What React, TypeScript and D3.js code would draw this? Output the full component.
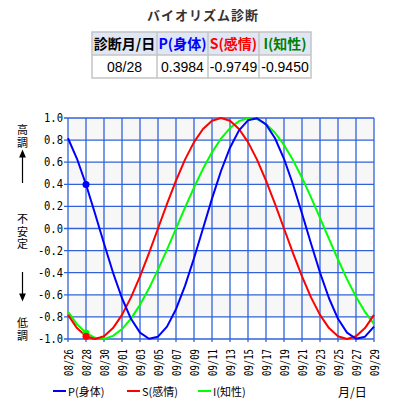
import * as d3 from "d3";
import React from "react";

// one value per day, 08/26 .. 09/29
const physical = [
  0.8168, 0.6309, 0.3984, 0.1361, -0.1362, -0.3989, -0.6313, -0.8171, -0.9424, -0.9977,
  -0.979, -0.8878, -0.7306, -0.5197, -0.2694, 0.0003, 0.2702, 0.5204, 0.731, 0.888,
  0.9791, 0.9976, 0.9422, 0.8168, 0.6309, 0.3984, 0.1361, -0.1362, -0.3989, -0.6313,
  -0.8171, -0.9424, -0.9977, -0.979, -0.8878,
];
const sensitivity = [
  -0.7818, -0.901, -0.9749, -1, -0.9749, -0.901, -0.7818, -0.6235, -0.4339, -0.2225,
  0, 0.2225, 0.4339, 0.6235, 0.7818, 0.901, 0.9749, 1, 0.9749, 0.901,
  0.7818, 0.6235, 0.4339, 0.2225, 0, -0.2225, -0.4339, -0.6235, -0.7818, -0.901,
  -0.9749, -1, -0.9749, -0.901, -0.7818,
];
const intellectual = [
  -0.755, -0.8655, -0.945, -0.9897, -0.9989, -0.9721, -0.9101, -0.8152, -0.6909, -0.5416,
  -0.3727, -0.1904, -0.0011, 0.1883, 0.3707, 0.5398, 0.6893, 0.8139, 0.9092, 0.9716,
  0.9988, 0.99, 0.9454, 0.8666, 0.7565, 0.619, 0.4597, 0.2824, 0.0962, -0.094,
  -0.2806, -0.458, -0.6175, -0.7551, -0.8654,
];
const dateTicks = [
  "08/26", "08/28", "08/30", "09/01", "09/03", "09/05", "09/07", "09/09", "09/11",
  "09/13", "09/15", "09/17", "09/19", "09/21", "09/23", "09/25", "09/27", "09/29",
];
const yTicks = [1.0, 0.8, 0.6, 0.4, 0.2, 0, -0.2, -0.4, -0.6, -0.8, -1.0];
const todayIndex = 2;
const headers = ["診断月/日", "P(身体)", "S(感情)", "I(知性)"];
const headerColors = ["#000", "#0000ff", "#ff0000", "#008000"];
const todayRow = ["08/28", "0.3984", "-0.9749", "-0.9450"];
const sideLabels = ["高調", "不安定", "低調"];
const series = [
  { name: "I(知性)", color: "#00ff00", values: intellectual },
  { name: "S(感情)", color: "#ff0000", values: sensitivity },
  { name: "P(身体)", color: "#0000ff", values: physical },
];

const App = () => {
  const width = 395;
  const height = 413;
  const plot = { left: 68, right: 374, top: 118, bottom: 339 };

  const x = d3.scaleLinear().domain([0, physical.length - 1]).range([plot.left, plot.right]);
  const y = d3.scaleLinear().domain([-1, 1]).range([plot.bottom, plot.top]);
  const line = d3
    .line<number>()
    .x((_, i) => x(i))
    .y((d) => y(d));

  const grid = "#3163d8";
  const mono = "'DejaVu Sans Mono', monospace";
  const cjk = "'Noto Sans CJK JP', sans-serif";

  const colX = [92, 157, 208, 259, 311];
  const rowY = [32, 55, 78];

  const legend = [
    { label: "P(身体)", color: "#0000ff", x: 53 },
    { label: "S(感情)", color: "#ff0000", x: 127 },
    { label: "I(知性)", color: "#00ff00", x: 198 },
  ];

  // first glyph row of each side caption, then 12.5px per glyph
  const sideTop = [130, 219, 323];
  const sideStep = 12.5;

  return (
    <div style={{ position: "absolute", left: 0, top: 0 }}>
      <svg width={width} height={height} style={{ display: "block", background: "#fff" }}>
        <text x={203} y={20} textAnchor="middle" fontFamily={cjk} fontWeight="bold" fontSize={13} fill="#333" letterSpacing={1}>
          バイオリズム診断
        </text>

        {/* table */}
        <rect x={colX[0]} y={rowY[0]} width={colX[4] - colX[0]} height={rowY[1] - rowY[0]} fill="#dfe6f5" />
        <rect x={colX[0]} y={rowY[0]} width={colX[4] - colX[0]} height={rowY[2] - rowY[0]} fill="none" stroke="#c4c4c4" strokeWidth={1.5} />
        <line x1={colX[0]} x2={colX[4]} y1={rowY[1]} y2={rowY[1]} stroke="#c4c4c4" strokeWidth={1.5} />
        {colX.slice(1, 4).map((cx) => (
          <line key={cx} x1={cx} x2={cx} y1={rowY[0]} y2={rowY[2]} stroke="#c4c4c4" strokeWidth={1.5} />
        ))}
        {headers.map((h, i) => (
          <text key={h} x={(colX[i] + colX[i + 1]) / 2} y={49} textAnchor="middle" fontFamily={cjk} fontWeight="bold" fontSize={14} fill={headerColors[i]}>
            {h}
          </text>
        ))}
        {todayRow.map((v, i) => (
          <text key={i} x={(colX[i] + colX[i + 1]) / 2} y={72} textAnchor="middle" fontFamily="'Liberation Sans', Arial, sans-serif" fontSize={14} fill="#000">
            {v}
          </text>
        ))}

        {/* bands */}
        {yTicks.slice(0, -1).map((v, i) => (
          <rect key={i} x={plot.left} y={y(v)} width={plot.right - plot.left} height={y(yTicks[i + 1]) - y(v)} fill={i % 2 === 0 ? "#f7f7f7" : "#fff"} />
        ))}

        {/* grid */}
        {yTicks.map((v) => (
          <line key={v} x1={plot.left - 4} x2={plot.right} y1={y(v)} y2={y(v)} stroke={grid} strokeWidth={1.3} />
        ))}
        {dateTicks.map((_, i) => (
          <line key={i} x1={x(i * 2)} x2={x(i * 2)} y1={plot.top} y2={plot.bottom + 3} stroke={grid} strokeWidth={1.3} />
        ))}

        {yTicks.map((v) => (
          <text key={v} x={63} y={y(v)} textAnchor="end" dominantBaseline="central" fontFamily={mono} fontSize={12} textLength={v < 0 ? 25 : 19} lengthAdjust="spacingAndGlyphs" fill="#000">
            {v.toFixed(1)}
          </text>
        ))}
        {dateTicks.map((d, i) => (
          <text key={d} transform={`translate(${x(i * 2) + 0.5},376) rotate(-90)`} dominantBaseline="central" fontFamily={mono} fontSize={11.5} textLength={27} lengthAdjust="spacingAndGlyphs" fill="#000">
            {d}
          </text>
        ))}

        {/* left annotation, one glyph per row */}
        {sideLabels.map((s, i) =>
          Array.from(s).map((c, j) => (
            <text key={`${i}-${j}`} x={22.5} y={sideTop[i] + j * sideStep} textAnchor="middle" dominantBaseline="central" fontFamily="'Liberation Sans', 'Noto Sans CJK JP', sans-serif" fontSize={11} fill="#000">
              {c}
            </text>
          ))
        )}
        <g stroke="#000" strokeWidth={1.2} fill="#000">
          <line x1={22.5} x2={22.5} y1={154} y2={183} />
          <path d="M20,157 L22.5,151 L25,157 Z" />
          <line x1={22.5} x2={22.5} y1={272} y2={297} />
          <path d="M20,294 L22.5,300 L25,294 Z" />
        </g>

        {/* curves */}
        {series.map((s) => (
          <path key={s.name} d={line(s.values) ?? ""} fill="none" stroke={s.color} strokeWidth={2} strokeLinejoin="round" />
        ))}
        {series.map((s) => (
          <circle key={s.name} cx={x(todayIndex)} cy={y(s.values[todayIndex])} r={3.5} fill={s.color} />
        ))}

        {/* legend */}
        {legend.map((l) => (
          <g key={l.label}>
            <line x1={l.x} x2={l.x + 13} y1={391} y2={391} stroke={l.color} strokeWidth={2} />
            <text x={l.x + 15} y={391} dominantBaseline="central" fontFamily={cjk} fontSize={11} fill="#000">
              {l.label}
            </text>
          </g>
        ))}
        <text x={338} y={391} dominantBaseline="central" fontFamily={cjk} fontSize={12} fill="#000">
          月/日
        </text>
      </svg>
    </div>
  );
};

export default App;
